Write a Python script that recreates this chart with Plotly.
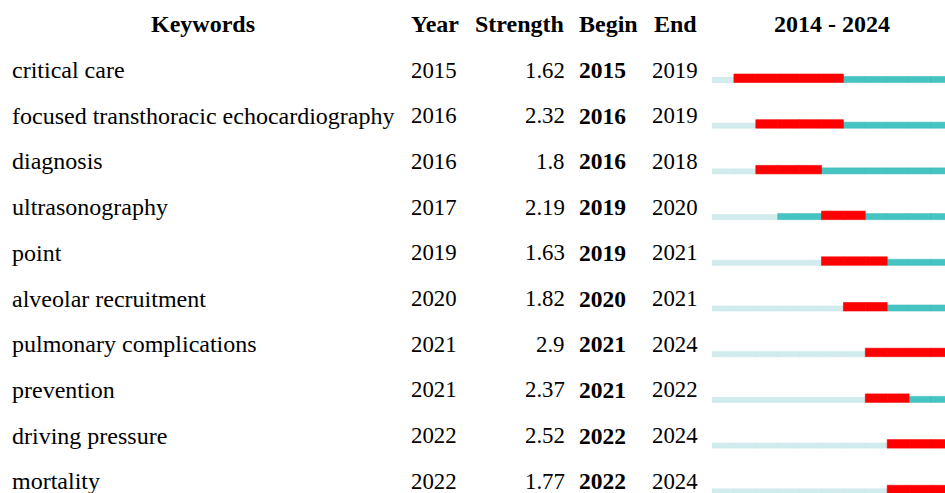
import plotly.graph_objects as go

keywords = ["critical care", "focused transthoracic echocardiography", "diagnosis",
            "ultrasonography", "point", "alveolar recruitment", "pulmonary complications",
            "prevention", "driving pressure", "mortality"]
first_year = [2015, 2016, 2016, 2017, 2019, 2020, 2021, 2021, 2022, 2022]
strength = [1.62, 2.32, 1.8, 2.19, 1.63, 1.82, 2.9, 2.37, 2.52, 1.77]
begin = [2015, 2016, 2016, 2019, 2019, 2020, 2021, 2021, 2022, 2022]
end = [2019, 2019, 2018, 2020, 2021, 2021, 2024, 2022, 2024, 2024]
span_start, span_end = 2014, 2024
headers = ["Keywords", "Year", "Strength", "Begin", "End", "2014 - 2024"]

W, H = 945, 493
FONT = "Liberation Serif"
RED, TEAL, LIGHT = "#ff0000", "#46c3c3", "#d2eced"

n = len(keywords)
rows = list(range(n))

cells = {"light": ([], []), "teal": ([], []), "red": ([], [])}
for i in rows:
    for yr in range(span_start, span_end + 1):
        if begin[i] <= yr <= end[i]:
            k = "red"
        elif yr >= first_year[i]:
            k = "teal"
        else:
            k = "light"
        cells[k][0].append(yr)
        cells[k][1].append(i)

ROW_PX = 45.7
bottom = 12.5 / ROW_PX
thick = {"light": 5 / ROW_PX, "teal": 6 / ROW_PX, "red": 8.5 / ROW_PX}
color = {"light": LIGHT, "teal": TEAL, "red": RED}
line_col = {"light": "#c8e6e8", "teal": "#40baba", "red": "#f00000"}

fig = go.Figure()
for k in ["light", "teal", "red"]:
    xs, ys = cells[k]
    fig.add_trace(go.Bar(
        orientation="h", base=xs, x=[1] * len(xs),
        y=[r + bottom - thick[k] / 2 for r in ys],
        width=thick[k], xaxis="x2", yaxis="y",
        marker=dict(color=color[k], line=dict(color=line_col[k], width=0.6)),
        showlegend=False, hoverinfo="skip"))

ann = []
def add(x, y, text, anchor, size, bold=False):
    ann.append(dict(x=x, y=y, xref="x", yref="y", text=f"<b>{text}</b>" if bold else text,
                    showarrow=False, xanchor=anchor, yanchor="middle", borderpad=0,
                    font=dict(family=FONT, size=size, color="#000")))

HS = 24
hy = -1.0
add(203, hy, headers[0], "center", HS, True)
add(410, hy, headers[1], "left", HS, True)
add(474, hy, headers[2], "left", HS, True)
add(578, hy, headers[3], "left", HS, True)
add(653, hy, headers[4], "left", HS, True)
add(832, hy, headers[5], "center", HS, True)

for i in rows:
    add(11, i, keywords[i], "left", 24)
    add(410, i, str(first_year[i]), "left", 22.8)
    add(566, i, f"{strength[i]:g}", "right", 22.8)
    add(578, i, str(begin[i]), "left", 23.5, True)
    add(651, i, str(end[i]), "left", 22.8)

top_row = -70 / ROW_PX
bot_row = (H - 70) / ROW_PX
year_px = 21.9
fig.update_layout(
    width=W, height=H, margin=dict(l=0, r=0, t=0, b=0),
    paper_bgcolor="white", plot_bgcolor="white",
    barmode="overlay", bargap=0,
    xaxis=dict(range=[0, W], domain=[0, 1], visible=False),
    xaxis2=dict(range=[span_start, span_start + (W - 712) / year_px],
                domain=[712 / W, 1], visible=False, anchor="y"),
    yaxis=dict(range=[bot_row, top_row], visible=False),
    annotations=ann, showlegend=False,
)
fig.write_html(
    "out.html",
    config={"displayModeBar": False, "staticPlot": True},
    post_script="document.documentElement.style.overflow='hidden';"
                "document.body.style.margin='0';document.body.style.overflow='hidden';",
)
